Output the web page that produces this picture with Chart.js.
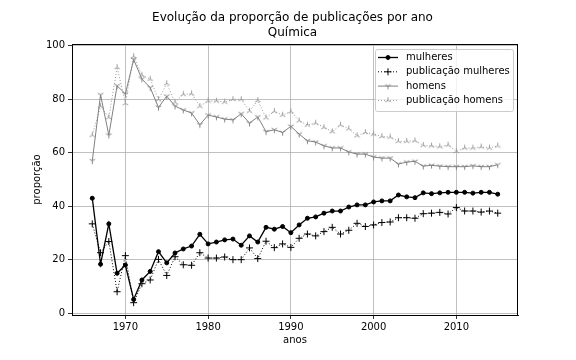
<!DOCTYPE html>
<html>
<head>
<meta charset="utf-8">
<script src="https://cdn.jsdelivr.net/npm/chart.js@4"></script>
<style>
    html, body { margin: 0; padding: 0; background: #fff; }
    #grafico-container { width: 576px; height: 360px; }
</style>
</head>
<body>
<div id="grafico-container"><canvas id="grafico"></canvas></div>
<script>
// Dados
const anos = [1966, 1967, 1968, 1969, 1970, 1971, 1972, 1973, 1974, 1975,
              1976, 1977, 1978, 1979, 1980, 1981, 1982, 1983, 1984, 1985,
              1986, 1987, 1988, 1989, 1990, 1991, 1992, 1993, 1994, 1995,
              1996, 1997, 1998, 1999, 2000, 2001, 2002, 2003, 2004, 2005,
              2006, 2007, 2008, 2009, 2010, 2011, 2012, 2013, 2014, 2015];

const mulheres = [43.0, 18.3, 33.4, 14.9, 18.0, 5.1, 12.4, 15.6, 23.0, 18.8,
                  22.5, 24.0, 25.1, 29.5, 25.9, 26.6, 27.4, 27.7, 25.4, 28.9,
                  26.6, 32.1, 31.4, 32.4, 30.1, 33.0, 35.5, 36.0, 37.4, 38.2,
                  38.2, 39.7, 40.5, 40.5, 41.6, 42.0, 42.0, 44.2, 43.5, 43.2,
                  45.0, 44.7, 45.0, 45.2, 45.2, 45.2, 44.9, 45.2, 45.2, 44.5];

const publicacaoMulheres = [33.4, 22.6, 26.8, 8.0, 21.5, 3.9, 11.0, 12.4, 20.1, 14.1,
                            21.1, 18.1, 17.9, 22.6, 20.6, 20.6, 21.0, 20.0, 20.0, 24.4,
                            20.4, 26.9, 24.5, 25.9, 24.6, 28.0, 29.6, 28.9, 30.5, 32.1,
                            29.6, 31.0, 33.6, 32.4, 33.0, 33.9, 34.1, 35.7, 35.7, 35.5,
                            37.2, 37.4, 37.7, 37.1, 39.5, 38.2, 38.2, 37.8, 38.2, 37.4];

const homens = [57.0, 81.7, 66.6, 85.1, 82.0, 94.9, 87.6, 84.4, 77.0, 81.2,
                77.5, 76.0, 74.9, 70.5, 74.1, 73.4, 72.6, 72.3, 74.6, 71.1,
                73.4, 67.9, 68.6, 67.6, 69.9, 67.0, 64.5, 64.0, 62.6, 61.8,
                61.8, 60.3, 59.5, 59.5, 58.4, 58.0, 58.0, 55.8, 56.5, 56.8,
                55.0, 55.3, 55.0, 54.8, 54.8, 54.8, 55.1, 54.8, 54.8, 55.5];

const publicacaoHomens = [66.6, 77.4, 73.2, 92.0, 78.5, 96.1, 89.0, 87.6, 79.9, 85.9,
                          78.9, 81.9, 82.1, 77.4, 79.4, 79.4, 79.0, 80.0, 80.0, 75.6,
                          79.6, 73.1, 75.5, 74.1, 75.4, 72.0, 70.4, 71.1, 69.5, 67.9,
                          70.4, 69.0, 66.4, 67.6, 67.0, 66.1, 65.9, 64.3, 64.3, 64.5,
                          62.8, 62.6, 62.3, 62.9, 60.5, 61.8, 61.8, 62.2, 61.8, 62.6];

const ticksX = [1970, 1980, 1990, 2000, 2010];
const ticksY = [0, 20, 40, 60, 80, 100];

// Marcadores tipo "tri" do matplotlib (1 = para baixo, 2 = para cima)
function criaTri(paraCima, cor) {
    const c = document.createElement('canvas');
    c.width = 9; c.height = 9;
    const ctx = c.getContext('2d');
    const r = 3.2, cx = 4.5, cy = 4.5;
    const s = paraCima ? -1 : 1;
    ctx.strokeStyle = cor;
    ctx.lineWidth = 1;
    ctx.beginPath();
    ctx.moveTo(cx, cy); ctx.lineTo(cx, cy + s * r);
    ctx.moveTo(cx, cy); ctx.lineTo(cx - r * 0.866, cy - s * r / 2);
    ctx.moveTo(cx, cy); ctx.lineTo(cx + r * 0.866, cy - s * r / 2);
    ctx.stroke();
    return c;
}

const cinza = '#808080';
const cinzaClaro = '#999999';
const triBaixo = criaTri(false, cinza);
const triCima = criaTri(true, cinzaClaro);

const pontos = serie => serie.map((v, i) => ({ x: anos[i], y: v }));

Chart.defaults.font.family = 'DejaVu Sans';
Chart.defaults.font.size = 10;
Chart.defaults.color = '#000';

// Moldura completa e legenda no estilo matplotlib
const molduraLegenda = {
    id: 'molduraLegenda',
    afterDatasetsDraw(chart) {
        const { ctx, chartArea: a } = chart;
        ctx.save();
        ctx.strokeStyle = '#000';
        ctx.lineWidth = 1;
        ctx.strokeRect(Math.round(a.left) + 0.5, Math.round(a.top) + 0.5,
                       Math.round(a.right - a.left) - 1, Math.round(a.bottom - a.top));

        // Caixa da legenda
        const bx = 375, by = 49, bw = 138, bh = 62;
        ctx.fillStyle = 'rgba(255,255,255,0.8)';
        ctx.strokeStyle = '#cccccc';
        ctx.beginPath();
        ctx.roundRect(bx + 0.5, by + 0.5, bw, bh, 2);
        ctx.fill();
        ctx.stroke();

        chart.data.datasets.forEach((ds, i) => {
            const y = by + 8.5 + i * 14.3;
            ctx.strokeStyle = ds.borderColor;
            ctx.lineWidth = ds.borderWidth;
            ctx.setLineDash(ds.borderDash || []);
            ctx.beginPath();
            ctx.moveTo(378, y);
            ctx.lineTo(398, y);
            ctx.stroke();
            ctx.setLineDash([]);
            ctx.fillStyle = ds.pointBackgroundColor;
            ctx.strokeStyle = ds.pointBorderColor;
            ctx.lineWidth = ds.pointBorderWidth;
            Chart.helpers.drawPoint(ctx, {
                pointStyle: ds.pointStyle,
                radius: ds.pointRadius,
                borderWidth: ds.pointBorderWidth,
                rotation: 0
            }, 388, y);
            ctx.fillStyle = '#000';
            ctx.font = '10px "DejaVu Sans"';
            ctx.textBaseline = 'middle';
            ctx.fillText(ds.label, 406, y);
        });
        ctx.restore();
    }
};

const canvas = document.getElementById('grafico');

new Chart(canvas, {
    type: 'line',
    data: {
        datasets: [{
            label: 'mulheres',
            data: pontos(mulheres),
            borderColor: '#000',
            borderWidth: 1.3,
            pointStyle: 'circle',
            pointRadius: 2,
            pointBackgroundColor: '#000',
            pointBorderColor: '#000',
            pointBorderWidth: 1
        }, {
            label: 'publicação mulheres',
            data: pontos(publicacaoMulheres),
            borderColor: '#000',
            borderWidth: 1,
            borderDash: [1, 2],
            pointStyle: 'cross',
            pointRadius: 3.5,
            pointBackgroundColor: '#000',
            pointBorderColor: '#000',
            pointBorderWidth: 1
        }, {
            label: 'homens',
            data: pontos(homens),
            borderColor: cinza,
            borderWidth: 1,
            pointStyle: triBaixo,
            pointRadius: 3.5,
            pointBackgroundColor: cinza,
            pointBorderColor: cinza,
            pointBorderWidth: 1
        }, {
            label: 'publicação homens',
            data: pontos(publicacaoHomens),
            borderColor: cinzaClaro,
            borderWidth: 1,
            borderDash: [1, 2],
            pointStyle: triCima,
            pointRadius: 3.5,
            pointBackgroundColor: cinzaClaro,
            pointBorderColor: cinzaClaro,
            pointBorderWidth: 1
        }]
    },
    options: {
        responsive: true,
        maintainAspectRatio: false,
        animation: false,
        layout: { padding: { top: 0, left: 9, right: 0, bottom: 14 } },
        scales: {
            x: {
                type: 'linear',
                min: 1963.55,
                max: 2017.45,
                afterBuildTicks: s => { s.ticks = ticksX.map(v => ({ value: v })); },
                afterFit: s => { s.height = 31; },
                ticks: {
                    callback: v => String(v),
                    padding: 2,
                    maxRotation: 0
                },
                grid: {
                    color: '#b0b0b0',
                    lineWidth: 0.8,
                    tickColor: '#000',
                    tickLength: 4
                },
                border: { color: '#000', width: 1 },
                title: { display: true, text: 'anos', padding: { top: 0, bottom: 0 } }
            },
            y: {
                type: 'linear',
                min: -0.71,
                max: 100.71,
                afterBuildTicks: s => { s.ticks = ticksY.map(v => ({ value: v })); },
                afterFit: s => { s.width = 63; },
                ticks: {
                    callback: v => String(v),
                    padding: 3
                },
                grid: {
                    color: '#b0b0b0',
                    lineWidth: 0.8,
                    tickColor: '#000',
                    tickLength: 4
                },
                border: { color: '#000', width: 1 },
                title: { display: true, text: 'proporção', padding: { top: 22, bottom: 0 } }
            },
            direita: {
                type: 'linear',
                position: 'right',
                display: true,
                afterFit: s => { s.width = 58; },
                ticks: { display: false },
                grid: { display: false },
                border: { display: false }
            }
        },
        plugins: {
            legend: { display: false },
            tooltip: { enabled: false },
            title: {
                display: true,
                text: ['Evolução da proporção de publicações por ano', 'Química'],
                color: '#000',
                font: { size: 12, weight: 'normal', lineHeight: 1.25 },
                padding: { top: 10, bottom: 4 }
            }
        }
    },
    plugins: [molduraLegenda]
});
</script>
</body>
</html>
